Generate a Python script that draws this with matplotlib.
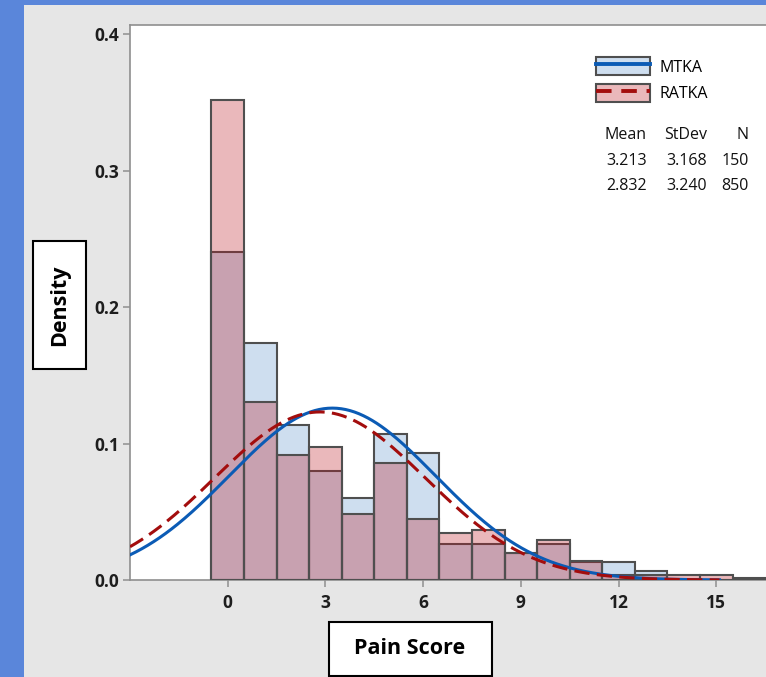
import numpy as np
import matplotlib
matplotlib.use("Agg")
import matplotlib.pyplot as plt
from matplotlib.patches import Rectangle, Patch
from matplotlib.lines import Line2D
from matplotlib.legend_handler import HandlerTuple

# histogram data: integer pain scores, one bin per score
scores = np.arange(0, 17)
mtka_counts = [36, 26, 17, 12, 9, 16, 14, 4, 4, 3, 4, 2, 2, 1, 0, 0, 0]
ratka_counts = [299, 111, 78, 83, 41, 73, 38, 29, 31, 17, 25, 12, 3, 3, 3, 3, 1]

# fitted normal parameters shown in the legend table
groups = ["MTKA", "RATKA"]
means = [3.213, 2.832]
stdevs = [3.168, 3.240]
ns = [150, 850]

y_ticks = [0.0, 0.1, 0.2, 0.3, 0.4]
x_ticks = [0, 3, 6, 9, 12, 15]

W, H = 766, 677
plt.rcParams["font.family"] = ["Open Sans", "DejaVu Sans"]

fig = plt.figure(figsize=(W / 100, H / 100), dpi=100)
fig.patch.set_facecolor("#e6e6e6")


def fx(px):
    return px / W


def fy(py):
    return 1 - py / H


# blue frame along the left and top edge
fig.patches.append(Rectangle((0, 0), fx(24), 1, transform=fig.transFigure,
                             facecolor="#5a86da", edgecolor="none", zorder=0))
fig.patches.append(Rectangle((0, fy(5)), 1, 1 - fy(5), transform=fig.transFigure,
                             facecolor="#5a86da", edgecolor="none", zorder=0))

# axes placed by pixel; right side runs past the image edge as in the source
ax_left, ax_top, ax_bottom = 130, 24.6, 580
x_min, px_per_unit = -3.0, 32.57
x_max = 17.2
ax_w = (x_max - x_min) * px_per_unit
ax = fig.add_axes([fx(ax_left), fy(ax_bottom), ax_w / W, (ax_bottom - ax_top) / H])
ax.set_facecolor("white")

blue_fill = (95 / 255, 148 / 255, 205 / 255, 0.3)
red_fill = (188 / 255, 22 / 255, 32 / 255, 0.3)
edge = "#4f4f4f"
blue_line = "#0b5bb5"
red_line = "#a30d0d"

mtka_dens = np.array(mtka_counts) / ns[0]
ratka_dens = np.array(ratka_counts) / ns[1]
ax.bar(scores, mtka_dens, width=1, color=blue_fill, edgecolor=edge, linewidth=1.5, zorder=2)
ax.bar(scores, ratka_dens, width=1, color=red_fill, edgecolor=edge, linewidth=1.5, zorder=3)

# normal fit curves from the stated mean / stdev
xs = np.linspace(x_min, 15.1, 400)
for m, s, col, ls, z in [(means[0], stdevs[0], blue_line, "-", 4),
                         (means[1], stdevs[1], red_line, (0, (5, 2.4)), 5)]:
    pdf = np.exp(-0.5 * ((xs - m) / s) ** 2) / (s * np.sqrt(2 * np.pi))
    ax.plot(xs, pdf, color=col, lw=2.2, ls=ls, zorder=z)

ax.set_xlim(x_min, x_max)
ax.set_ylim(0, 0.4069)
ax.set_yticks(y_ticks)
ax.set_yticklabels([f"{v:.1f}" for v in y_ticks])
ax.set_xticks(x_ticks)
for sp in ax.spines.values():
    sp.set_color("#8f8f8f")
    sp.set_linewidth(1.2)
ax.tick_params(axis="both", direction="out", length=5, width=1.1, color="#8f8f8f",
               labelcolor="#1e1e1e", labelsize=12.5)
ax.tick_params(axis="y", pad=3)
ax.tick_params(axis="x", pad=5)
for lab in ax.get_xticklabels() + ax.get_yticklabels():
    lab.set_fontweight("bold")

# legend: shaded patch with the fitted line drawn across it
h_mtka = (Patch(facecolor=blue_fill, edgecolor=edge, linewidth=1.5),
          Line2D([], [], color=blue_line, lw=2.8))
h_ratka = (Patch(facecolor=red_fill, edgecolor=edge, linewidth=1.5),
           Line2D([], [], color=red_line, lw=2.8, ls=(0, (4, 2.5))))
fig.legend([h_mtka, h_ratka], groups, handler_map={tuple: HandlerTuple(ndivide=1)},
           loc="upper left", bbox_to_anchor=(fx(596), fy(57)), bbox_transform=fig.transFigure,
           frameon=False, borderpad=0, borderaxespad=0, handlelength=3.4, handleheight=1.4,
           handletextpad=0.6, labelspacing=0.5, fontsize=11.5)

# statistics table
col_right = [647, 707, 749]
tbl = dict(ha="right", va="center", fontsize=11.5, color="#111111")
fig.text(fx(col_right[0]), fy(135), "Mean", **tbl)
fig.text(fx(col_right[1]), fy(135), "StDev", **tbl)
fig.text(fx(col_right[2]), fy(135), "N", **tbl)
for i, row_y in enumerate([161, 186]):
    fig.text(fx(col_right[0]), fy(row_y), f"{means[i]:.3f}", **tbl)
    fig.text(fx(col_right[1]), fy(row_y), f"{stdevs[i]:.3f}", **tbl)
    fig.text(fx(col_right[2]), fy(row_y), f"{ns[i]}", **tbl)

# boxed axis titles
fig.patches.append(Rectangle((fx(33), fy(369)), fx(86) - fx(33), fy(241) - fy(369),
                             transform=fig.transFigure, facecolor="white",
                             edgecolor="black", linewidth=1.5, zorder=1))
fig.text(fx(59.5), fy(305), "Density", rotation=90, ha="center", va="center",
         fontsize=15.5, fontweight="bold", color="black")
fig.patches.append(Rectangle((fx(329), fy(676)), fx(492) - fx(329), fy(622) - fy(676),
                             transform=fig.transFigure, facecolor="white",
                             edgecolor="black", linewidth=1.5, zorder=1))
fig.text(fx(410), fy(649), "Pain Score", ha="center", va="center",
         fontsize=15.5, fontweight="bold", color="black")

fig.savefig("out.png", dpi=100, facecolor=fig.get_facecolor())
